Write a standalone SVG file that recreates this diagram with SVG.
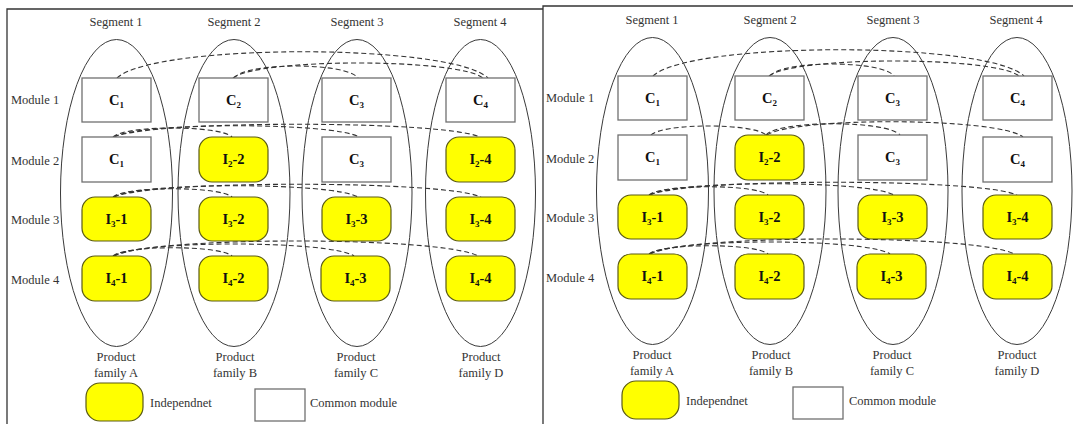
<svg xmlns="http://www.w3.org/2000/svg" width="1073" height="424" viewBox="0 0 1073 424">
  <style>
    .frame{fill:none;stroke:#333;stroke-width:1.3}
    .fam{fill:none;stroke:#3a3a3a;stroke-width:1}
    .com{fill:#fff;stroke:#707070;stroke-width:1.3}
    .ind{fill:#ffff00;stroke:#5a5a14;stroke-width:1.2}
    .lbl{font-family:"Liberation Serif","Times New Roman",serif;font-size:12.5px;fill:#333}
    .mid{text-anchor:middle}
    .nm{font-family:"Liberation Serif","Times New Roman",serif;font-size:14.5px;font-weight:bold;fill:#111;text-anchor:middle}
    .sub{font-size:9px}
    .link{fill:none;stroke:#333;stroke-width:1.1;stroke-dasharray:5 3}
  </style>

  <!-- outer frames of the two panels -->
  <path class="frame" d="M7,424 V9 H543"/>
  <path class="frame" d="M543,424 V6 H1073"/>

  <!-- ===================== Panel A ===================== -->
  <g id="panel-a">
    <g id="a-headers" class="lbl mid">
      <text x="116" y="26">Segment 1</text>
      <text x="234" y="26">Segment 2</text>
      <text x="357" y="26">Segment 3</text>
      <text x="480" y="26">Segment 4</text>
    </g>
    <g id="a-rows" class="lbl">
      <text x="11" y="104">Module 1</text>
      <text x="11" y="165">Module 2</text>
      <text x="11" y="224">Module 3</text>
      <text x="11" y="284">Module 4</text>
    </g>

    <!-- product families -->
    <g id="a-family-A"><ellipse class="fam" cx="116.5" cy="193" rx="56" ry="153.5"/>
      <text class="lbl mid" x="116" y="361">Product</text><text class="lbl mid" x="116" y="377">family A</text></g>
    <g id="a-family-B"><ellipse class="fam" cx="234" cy="193" rx="56" ry="153.5"/>
      <text class="lbl mid" x="235" y="361">Product</text><text class="lbl mid" x="235" y="377">family B</text></g>
    <g id="a-family-C"><ellipse class="fam" cx="357" cy="193" rx="55" ry="153.5"/>
      <text class="lbl mid" x="356" y="361">Product</text><text class="lbl mid" x="356" y="377">family C</text></g>
    <g id="a-family-D"><ellipse class="fam" cx="480.5" cy="193" rx="55" ry="153.5"/>
      <text class="lbl mid" x="481" y="361">Product</text><text class="lbl mid" x="481" y="377">family D</text></g>

    <!-- connectors -->
    <g id="a-links">
      <path class="link" d="M117,78 C154,43 451,43 488,78"/>
      <path class="link" d="M233,78 C258,58 458,58 483,78"/>
      <path class="link" d="M234,78 C246,62 346,62 358,78"/>

      <path class="link" d="M113,137 C125,125 220,125 232,137"/>
      <path class="link" d="M114,137 C139,122 334,122 359,137"/>
      <path class="link" d="M114,137 C151,120 443,120 480,137"/>

      <path class="link" d="M113,197 C125,186 220,186 232,197"/>
      <path class="link" d="M114,197 C139,182 333,182 358,197"/>
      <path class="link" d="M114,197 C151,180 444,180 481,197"/>

      <path class="link" d="M113,256 C125,245 220,245 232,256"/>
      <path class="link" d="M114,256 C138,240 330,240 354,256"/>
      <path class="link" d="M114,256 C150,236 442,236 478,256"/>
    </g>

    <!-- module 1 -->
    <g id="a-m1-s1"><rect class="com" x="82" y="78" width="69" height="44"/><text class="nm" x="116.5" y="105">C<tspan class="sub" dy="3">1</tspan></text></g>
    <g id="a-m1-s2"><rect class="com" x="199" y="78" width="69" height="44"/><text class="nm" x="233.5" y="105">C<tspan class="sub" dy="3">2</tspan></text></g>
    <g id="a-m1-s3"><rect class="com" x="322" y="78" width="69" height="44"/><text class="nm" x="356.5" y="105">C<tspan class="sub" dy="3">3</tspan></text></g>
    <g id="a-m1-s4"><rect class="com" x="446" y="78" width="69" height="44"/><text class="nm" x="480.5" y="105">C<tspan class="sub" dy="3">4</tspan></text></g>
    <!-- module 2 -->
    <g id="a-m2-s1"><rect class="com" x="82" y="137" width="69" height="45"/><text class="nm" x="116.5" y="164">C<tspan class="sub" dy="3">1</tspan></text></g>
    <g id="a-m2-s2"><rect class="ind" x="199" y="137" width="69" height="45" rx="13"/><text class="nm" x="233.5" y="164">I<tspan class="sub" dy="3">2</tspan><tspan dy="-3">-2</tspan></text></g>
    <g id="a-m2-s3"><rect class="com" x="322" y="137" width="69" height="45"/><text class="nm" x="356.5" y="164">C<tspan class="sub" dy="3">3</tspan></text></g>
    <g id="a-m2-s4"><rect class="ind" x="446" y="137" width="69" height="45" rx="13"/><text class="nm" x="480.5" y="164">I<tspan class="sub" dy="3">2</tspan><tspan dy="-3">-4</tspan></text></g>
    <!-- module 3 -->
    <g id="a-m3-s1"><rect class="ind" x="82" y="197" width="69" height="44" rx="13"/><text class="nm" x="116.5" y="224">I<tspan class="sub" dy="3">3</tspan><tspan dy="-3">-1</tspan></text></g>
    <g id="a-m3-s2"><rect class="ind" x="199" y="197" width="69" height="44" rx="13"/><text class="nm" x="233.5" y="224">I<tspan class="sub" dy="3">3</tspan><tspan dy="-3">-2</tspan></text></g>
    <g id="a-m3-s3"><rect class="ind" x="322" y="197" width="69" height="44" rx="13"/><text class="nm" x="356.5" y="224">I<tspan class="sub" dy="3">3</tspan><tspan dy="-3">-3</tspan></text></g>
    <g id="a-m3-s4"><rect class="ind" x="446" y="197" width="69" height="44" rx="13"/><text class="nm" x="480.5" y="224">I<tspan class="sub" dy="3">3</tspan><tspan dy="-3">-4</tspan></text></g>
    <!-- module 4 -->
    <g id="a-m4-s1"><rect class="ind" x="82" y="256" width="69" height="45" rx="13"/><text class="nm" x="116.5" y="283">I<tspan class="sub" dy="3">4</tspan><tspan dy="-3">-1</tspan></text></g>
    <g id="a-m4-s2"><rect class="ind" x="199" y="256" width="69" height="45" rx="13"/><text class="nm" x="233.5" y="283">I<tspan class="sub" dy="3">4</tspan><tspan dy="-3">-2</tspan></text></g>
    <g id="a-m4-s3"><rect class="ind" x="321" y="256" width="69" height="45" rx="13"/><text class="nm" x="355.5" y="283">I<tspan class="sub" dy="3">4</tspan><tspan dy="-3">-3</tspan></text></g>
    <g id="a-m4-s4"><rect class="ind" x="446" y="256" width="69" height="45" rx="13"/><text class="nm" x="480.5" y="283">I<tspan class="sub" dy="3">4</tspan><tspan dy="-3">-4</tspan></text></g>

    <!-- legend -->
    <g id="a-legend">
      <rect class="ind" x="86" y="383" width="57" height="38" rx="14"/>
      <text class="lbl" x="150" y="407">Independnet</text>
      <rect class="com" x="255" y="389" width="50" height="32"/>
      <text class="lbl" x="310" y="407">Common module</text>
    </g>
  </g>

  <!-- ===================== Panel B ===================== -->
  <g id="panel-b" transform="translate(536,-2)">
    <g id="b-headers" class="lbl mid">
      <text x="116" y="26">Segment 1</text>
      <text x="234" y="26">Segment 2</text>
      <text x="357" y="26">Segment 3</text>
      <text x="480" y="26">Segment 4</text>
    </g>
    <g id="b-rows" class="lbl">
      <text x="10" y="104">Module 1</text>
      <text x="10" y="165">Module 2</text>
      <text x="10" y="224">Module 3</text>
      <text x="10" y="284">Module 4</text>
    </g>

    <g id="b-family-A"><ellipse class="fam" cx="116.5" cy="193" rx="56" ry="153.5"/>
      <text class="lbl mid" x="116" y="361">Product</text><text class="lbl mid" x="116" y="377">family A</text></g>
    <g id="b-family-B"><ellipse class="fam" cx="234" cy="193" rx="56" ry="153.5"/>
      <text class="lbl mid" x="235" y="361">Product</text><text class="lbl mid" x="235" y="377">family B</text></g>
    <g id="b-family-C"><ellipse class="fam" cx="357" cy="193" rx="55" ry="153.5"/>
      <text class="lbl mid" x="356" y="361">Product</text><text class="lbl mid" x="356" y="377">family C</text></g>
    <g id="b-family-D"><ellipse class="fam" cx="481" cy="193" rx="55" ry="153.5"/>
      <text class="lbl mid" x="481" y="361">Product</text><text class="lbl mid" x="481" y="377">family D</text></g>

    <g id="b-links">
      <path class="link" d="M117,78 C154,43 451,43 488,78"/>
      <path class="link" d="M233,78 C258,58 458,58 483,78"/>
      <path class="link" d="M234,78 C246,62 346,62 358,78"/>

      <path class="link" d="M115,137 C127,125 218,125 230,137"/>
      <path class="link" d="M230,137 C243,122 351,122 364,137"/>
      <path class="link" d="M231,137 C257,119 461,119 487,139"/>

      <path class="link" d="M113,197 C125,186 220,186 232,197"/>
      <path class="link" d="M114,197 C139,182 333,182 358,197"/>
      <path class="link" d="M114,197 C151,180 444,180 481,197"/>

      <path class="link" d="M113,256 C125,245 220,245 232,256"/>
      <path class="link" d="M114,256 C138,240 330,240 354,256"/>
      <path class="link" d="M114,256 C150,236 442,236 478,256"/>
    </g>

    <!-- module 1 -->
    <g id="b-m1-s1"><rect class="com" x="82" y="78" width="69" height="44"/><text class="nm" x="116.5" y="105">C<tspan class="sub" dy="3">1</tspan></text></g>
    <g id="b-m1-s2"><rect class="com" x="199" y="78" width="69" height="44"/><text class="nm" x="233.5" y="105">C<tspan class="sub" dy="3">2</tspan></text></g>
    <g id="b-m1-s3"><rect class="com" x="322" y="78" width="69" height="44"/><text class="nm" x="356.5" y="105">C<tspan class="sub" dy="3">3</tspan></text></g>
    <g id="b-m1-s4"><rect class="com" x="447" y="78" width="69" height="44"/><text class="nm" x="481.5" y="105">C<tspan class="sub" dy="3">4</tspan></text></g>
    <!-- module 2 -->
    <g id="b-m2-s1"><rect class="com" x="82" y="137" width="69" height="45"/><text class="nm" x="116.5" y="164">C<tspan class="sub" dy="3">1</tspan></text></g>
    <g id="b-m2-s2"><rect class="ind" x="199" y="137" width="69" height="45" rx="13"/><text class="nm" x="233.5" y="164">I<tspan class="sub" dy="3">2</tspan><tspan dy="-3">-2</tspan></text></g>
    <g id="b-m2-s3"><rect class="com" x="322" y="137" width="69" height="45"/><text class="nm" x="356.5" y="164">C<tspan class="sub" dy="3">3</tspan></text></g>
    <g id="b-m2-s4"><rect class="com" x="447" y="139" width="69" height="45"/><text class="nm" x="481.5" y="166">C<tspan class="sub" dy="3">4</tspan></text></g>
    <!-- module 3 -->
    <g id="b-m3-s1"><rect class="ind" x="82" y="197" width="69" height="44" rx="13"/><text class="nm" x="116.5" y="224">I<tspan class="sub" dy="3">3</tspan><tspan dy="-3">-1</tspan></text></g>
    <g id="b-m3-s2"><rect class="ind" x="199" y="197" width="69" height="44" rx="13"/><text class="nm" x="233.5" y="224">I<tspan class="sub" dy="3">3</tspan><tspan dy="-3">-2</tspan></text></g>
    <g id="b-m3-s3"><rect class="ind" x="322" y="197" width="69" height="44" rx="13"/><text class="nm" x="356.5" y="224">I<tspan class="sub" dy="3">3</tspan><tspan dy="-3">-3</tspan></text></g>
    <g id="b-m3-s4"><rect class="ind" x="447" y="197" width="69" height="44" rx="13"/><text class="nm" x="481.5" y="224">I<tspan class="sub" dy="3">3</tspan><tspan dy="-3">-4</tspan></text></g>
    <!-- module 4 -->
    <g id="b-m4-s1"><rect class="ind" x="82" y="256" width="69" height="45" rx="13"/><text class="nm" x="116.5" y="283">I<tspan class="sub" dy="3">4</tspan><tspan dy="-3">-1</tspan></text></g>
    <g id="b-m4-s2"><rect class="ind" x="199" y="256" width="69" height="45" rx="13"/><text class="nm" x="233.5" y="283">I<tspan class="sub" dy="3">4</tspan><tspan dy="-3">-2</tspan></text></g>
    <g id="b-m4-s3"><rect class="ind" x="321" y="256" width="69" height="45" rx="13"/><text class="nm" x="355.5" y="283">I<tspan class="sub" dy="3">4</tspan><tspan dy="-3">-3</tspan></text></g>
    <g id="b-m4-s4"><rect class="ind" x="447" y="256" width="69" height="45" rx="13"/><text class="nm" x="481.5" y="283">I<tspan class="sub" dy="3">4</tspan><tspan dy="-3">-4</tspan></text></g>

    <g id="b-legend">
      <rect class="ind" x="86" y="383" width="57" height="38" rx="14"/>
      <text class="lbl" x="150" y="407">Independnet</text>
      <rect class="com" x="257" y="389" width="50" height="32"/>
      <text class="lbl" x="313" y="407">Common module</text>
    </g>
  </g>
</svg>
